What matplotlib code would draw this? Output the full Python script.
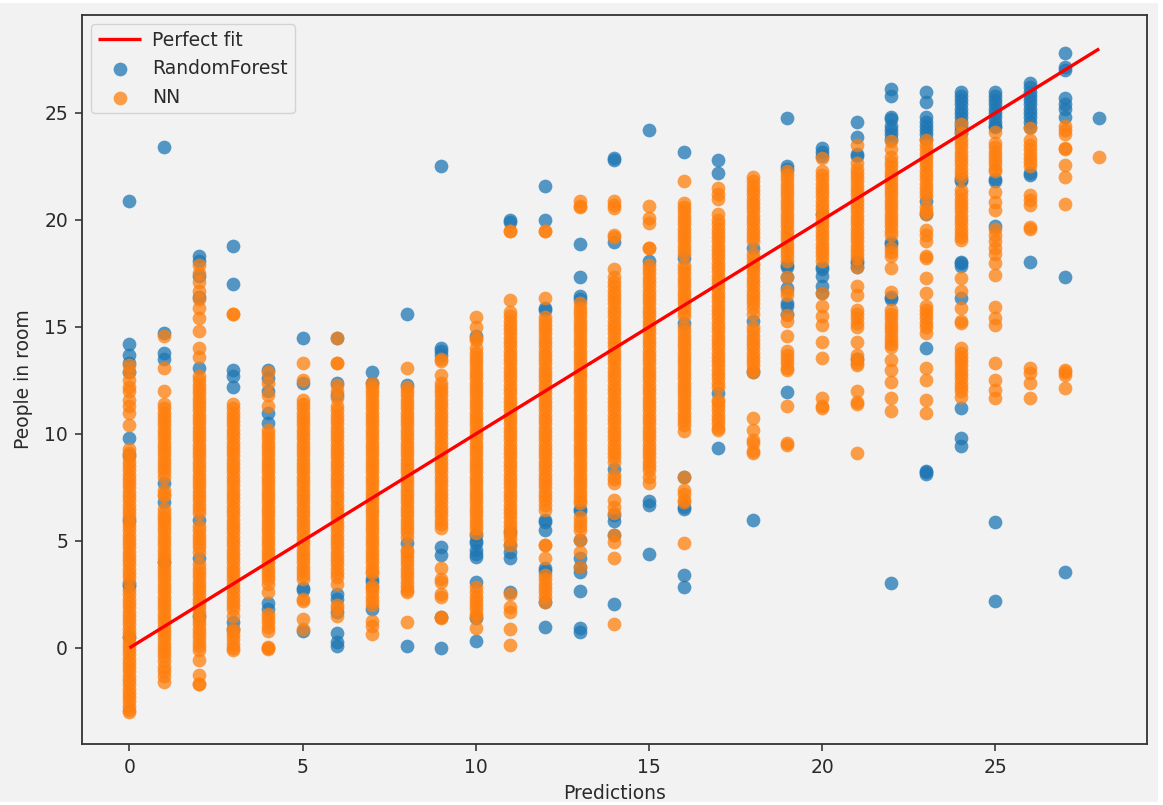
import numpy as np
import matplotlib
matplotlib.use('Agg')
import matplotlib.pyplot as plt
from matplotlib.patches import Rectangle

# values, one list per prediction value
rf_0 = [20.9, 14.2, 13.7, 13.3, 12.9, 9.8, 9.0, 6.0, 3.0, 2.9, 0.5]
rf_1 = [23.4, 14.7, 13.8, 13.5, 7.7, 6.8, 4.0]
rf_2 = [18.3, 18.1, 17.4, 16.4, 13.1, 6.0, 4.2, 1.5]
rf_3 = [18.8, 17.0, 13.0, 12.7, 12.2, 1.2, 0.9]
rf_4 = [13.0, 12.6, 12.0, 11.0, 10.5, 2.1, 1.8]
rf_5 = [14.5, 12.4, 2.8, 2.7, 0.8]
rf_6 = [14.5, 12.4, 11.8, 2.5, 2.3, 1.7, 0.7, 0.3, 0.1]
rf_7 = [12.9, 12.4, 3.2, 3.1, 1.8]
rf_8 = [15.6, 12.3, 4.9, 0.1]
rf_9 = [22.5, 14.0, 13.9, 13.7, 4.7, 4.35, 1.45, 0.0]
rf_10 = [14.6, 5.3, 5.0, 4.9, 4.6, 4.4, 4.25, 3.1, 1.4, 0.33]
rf_11 = [20.0, 19.9, 5.4, 4.8, 4.5, 4.2, 2.6]
rf_12 = [21.6, 20.0, 15.9, 15.8, 6.0, 5.9, 5.5, 3.75, 3.6, 2.15, 1.0]
rf_13 = [18.9, 17.35, 16.45, 16.3, 6.5, 6.4, 5.05, 4.2, 3.8, 3.55, 2.66, 0.93, 0.75]
rf_14 = [22.9, 22.8, 18.95, 8.35, 6.2, 5.93, 5.3, 2.05]
rf_15 = [24.2, 18.1, 6.85, 6.7, 4.4]
rf_16 = [23.2, 18.2, 15.2, 8.0, 6.6, 6.5, 3.4, 2.85]
rf_17 = [22.8, 22.2, 11.9, 9.35]
rf_18 = [18.7, 15.3, 12.9, 6.0]
rf_19 = [24.75, 22.5, 22.4, 17.9, 17.8, 17.35, 16.8, 16.1, 16.0, 15.6, 11.95]
rf_20 = [23.35, 23.2, 23.0, 17.8, 17.7, 17.4, 16.9, 16.6, 20.3]
rf_21 = [24.6, 23.9, 23.1, 23.0, 18.1, 18.0, 17.8, 13.5]
rf_22 = [26.1, 25.8, 24.8, 24.7, 24.4, 24.2, 24.0, 23.8, 18.95, 18.9, 16.4, 16.3, 3.05]
rf_23 = [26.0, 25.5, 24.8, 24.6, 24.4, 24.2, 24.0, 23.8, 20.9, 20.3, 14.0, 8.25, 8.2, 8.15]
rf_24 = [26.0, 25.8, 25.6, 25.4, 25.2, 25.0, 24.8, 24.6, 24.4, 24.2, 24.05, 21.9, 21.8, 18.05, 18.0, 17.85, 16.35, 11.2, 9.8, 9.45]
rf_25 = [26.0, 25.8, 25.6, 25.4, 25.2, 25.0, 24.8, 24.6, 24.4, 24.35, 21.9, 21.8, 19.7, 5.9, 2.2]
rf_26 = [26.4, 26.2, 26.0, 25.8, 25.6, 25.4, 25.2, 25.0, 24.8, 24.6, 24.35, 22.2, 22.1, 18.05]
rf_27 = [27.8, 27.15, 27.0, 25.7, 25.4, 25.2, 24.8, 17.35, 3.55]
rf_28 = [24.75]

nn_0 = [13.2, 12.9, 12.5, 12.2, 12.0, 11.6, 11.3, 11.0, 10.4, 9.3, 9.1, 8.9, 8.7, 8.5, 8.3, 8.1, 7.9, 7.7, 7.5, 7.3, 7.1, 6.9, 6.7, 6.5, 6.3, 6.1, 5.9, 5.7, 5.5, 5.3, 5.1, 4.9, 4.7, 4.5, 4.3, 4.1, 3.9, 3.7, 3.5, 3.3, 3.1, 2.7, 2.5, 2.3, 2.1, 1.9, 1.7, 1.5, 1.3, 1.1, 0.9, 0.7, 0.5, 0.3, 0.1, -0.1, -0.3, -0.5, -0.7, -0.9, -1.1, -1.3, -1.5, -1.7, -1.9, -2.1, -2.3, -2.5, -2.7, -2.9, -3.0]
nn_1 = [14.6, 13.1, 12.0, 11.4, 11.2, 11.0, 10.8, 10.6, 10.4, 10.2, 10.0, 9.8, 9.6, 9.4, 9.2, 9.0, 8.8, 8.6, 8.4, 8.2, 8.0, 7.4, 7.2, 7.1, 6.5, 6.3, 6.1, 6.0, 5.8, 5.6, 5.4, 5.2, 5.0, 4.8, 4.6, 4.4, 4.2, 4.0, 3.8, 3.6, 3.4, 3.2, 3.0, 2.8, 2.6, 2.4, 2.2, 2.0, 1.8, 1.6, 1.4, 1.2, 1.0, 0.8, 0.6, 0.4, 0.2, 0.0, -0.2, -0.4, -0.6, -0.9, -1.1, -1.3, -1.6]
nn_2 = [17.9, 17.5, 17.1, 16.7, 16.3, 15.9, 15.4, 14.8, 14.0, 13.6, 12.7, 12.5, 12.3, 12.1, 11.9, 11.7, 11.5, 11.3, 11.1, 10.9, 10.7, 10.5, 10.3, 10.1, 9.9, 9.7, 9.5, 9.3, 9.1, 8.9, 8.7, 8.5, 8.3, 8.1, 7.9, 7.7, 7.5, 7.3, 7.1, 6.9, 6.7, 6.5, 6.3, 5.7, 5.5, 5.3, 5.1, 4.9, 4.7, 4.5, 3.9, 3.7, 3.5, 3.3, 3.1, 2.9, 2.7, 2.5, 2.3, 2.1, 1.9, 1.7, 1.5, 1.3, 1.1, 0.9, 0.7, 0.5, 0.3, 0.1, -0.1, -0.56, -1.27, -1.7, -1.7]
nn_3 = [15.6, 15.6, 11.4, 11.2, 11.0, 10.8, 10.6, 10.4, 10.2, 10.0, 9.8, 9.6, 9.4, 9.2, 9.0, 8.8, 8.6, 8.4, 8.2, 8.0, 7.8, 7.6, 7.4, 7.2, 7.0, 6.8, 6.6, 6.4, 6.2, 6.0, 5.8, 5.6, 5.4, 5.2, 5.0, 4.8, 4.6, 4.4, 4.2, 4.0, 3.8, 3.6, 3.4, 3.2, 3.0, 2.8, 2.6, 2.4, 2.2, 2.0, 1.8, 1.5, 0.9, 0.8, 0.6, 0.4, 0.2, 0.0, -0.1]
nn_4 = [12.9, 12.4, 11.8, 11.3, 10.2, 10.0, 9.8, 9.6, 9.4, 9.2, 9.0, 8.8, 8.6, 8.4, 8.2, 8.0, 7.8, 7.6, 7.4, 7.2, 7.0, 6.8, 6.6, 6.4, 6.2, 6.0, 5.8, 5.6, 5.4, 5.2, 5.0, 4.8, 4.6, 4.4, 4.2, 4.0, 3.8, 3.6, 3.4, 3.2, 3.0, 2.6, 1.6, 1.4, 1.2, 1.0, 0.8, 0.05, 0.0, -0.05]
nn_5 = [13.3, 12.5, 11.6, 11.4, 11.2, 11.0, 10.8, 10.6, 10.4, 10.2, 10.0, 9.8, 9.6, 9.4, 9.2, 9.0, 8.8, 8.6, 8.4, 8.2, 8.0, 7.8, 7.6, 7.4, 7.2, 7.0, 6.8, 6.6, 6.4, 6.2, 6.0, 5.8, 5.6, 5.4, 5.2, 5.0, 4.8, 4.6, 4.4, 4.2, 4.0, 3.8, 3.6, 3.4, 3.2, 2.3, 2.2, 1.35, 0.9]
nn_6 = [14.5, 13.3, 13.3, 12.3, 12.0, 11.7, 11.3, 11.1, 10.9, 10.7, 10.5, 10.3, 10.1, 9.9, 9.7, 9.5, 9.3, 9.1, 8.9, 8.7, 8.5, 8.3, 8.1, 7.9, 7.7, 7.5, 7.3, 7.1, 6.9, 6.7, 6.5, 6.3, 6.1, 5.9, 5.7, 5.5, 5.3, 5.1, 4.9, 4.7, 4.5, 4.3, 4.1, 3.9, 3.7, 3.5, 3.3, 3.0, 2.0, 1.87, 1.5]
nn_7 = [12.4, 12.2, 12.0, 11.8, 11.6, 11.4, 11.2, 11.0, 10.8, 10.6, 10.4, 10.2, 10.0, 9.8, 9.6, 9.4, 9.2, 9.0, 8.8, 8.6, 8.4, 8.2, 8.0, 7.8, 7.6, 7.4, 7.2, 7.0, 6.8, 6.6, 6.4, 6.2, 6.0, 5.8, 5.6, 5.4, 5.2, 5.0, 4.8, 4.6, 4.4, 4.2, 4.0, 3.8, 3.6, 3.5, 2.9, 2.8, 2.6, 2.4, 2.2, 2.0, 1.25, 1.03, 0.66]
nn_8 = [13.1, 12.2, 12.0, 11.8, 11.6, 11.4, 11.2, 11.0, 10.8, 10.6, 10.4, 10.2, 10.0, 9.8, 9.6, 9.4, 9.2, 9.0, 8.8, 8.6, 8.4, 8.2, 8.0, 7.8, 7.6, 7.4, 7.2, 7.0, 6.8, 6.6, 6.4, 6.2, 6.0, 5.8, 5.6, 5.4, 5.2, 4.6, 4.5, 4.3, 4.1, 3.9, 3.7, 3.5, 3.3, 3.1, 2.9, 2.7, 2.6, 1.2]
nn_9 = [13.5, 13.4, 12.75, 12.4, 12.2, 12.0, 11.8, 11.6, 11.4, 11.2, 11.0, 10.8, 10.6, 10.4, 10.2, 10.0, 9.8, 9.6, 9.4, 9.2, 9.0, 8.8, 8.6, 8.4, 8.2, 8.0, 7.8, 7.6, 7.4, 7.2, 7.0, 6.8, 6.6, 6.4, 6.2, 6.0, 5.8, 5.6, 3.75, 3.2, 3.1, 2.5, 2.4, 1.4, 1.45]
nn_10 = [15.45, 15.0, 14.5, 14.4, 14.0, 13.8, 13.6, 13.4, 13.2, 13.0, 12.8, 12.6, 12.4, 12.2, 12.0, 11.8, 11.6, 11.4, 11.2, 11.0, 10.8, 10.6, 10.4, 10.2, 10.0, 9.8, 9.6, 9.4, 9.2, 9.0, 8.8, 8.6, 8.4, 8.2, 8.0, 7.8, 7.6, 7.4, 7.2, 7.0, 6.8, 6.6, 6.4, 6.2, 6.0, 5.8, 5.6, 5.37, 2.85, 2.6, 2.4, 2.2, 2.0, 1.8, 1.6, 1.45, 0.93]
nn_11 = [19.5, 19.5, 16.25, 15.7, 15.5, 15.3, 15.1, 14.9, 14.7, 14.5, 14.3, 14.1, 13.9, 13.7, 13.5, 13.3, 13.1, 12.9, 12.7, 12.5, 12.3, 12.1, 11.9, 11.7, 11.5, 11.3, 11.1, 10.9, 10.7, 10.5, 10.3, 10.1, 9.9, 9.7, 9.5, 9.3, 9.1, 8.9, 8.7, 8.5, 8.3, 8.1, 7.9, 7.7, 7.5, 7.3, 7.1, 6.9, 6.7, 6.5, 6.3, 6.1, 5.9, 5.7, 5.5, 5.3, 5.1, 4.8, 2.5, 1.9, 1.7, 0.9, 0.14]
nn_12 = [19.5, 19.5, 16.35, 15.45, 15.3, 15.1, 14.9, 14.7, 14.5, 14.3, 14.1, 13.9, 13.7, 13.5, 13.3, 13.1, 12.9, 12.7, 12.5, 12.3, 12.1, 11.9, 11.7, 11.5, 11.3, 11.1, 10.9, 10.7, 10.5, 10.3, 10.1, 9.9, 9.7, 9.5, 9.3, 9.1, 8.9, 8.7, 8.5, 8.3, 8.1, 7.9, 7.7, 7.5, 7.3, 7.1, 6.9, 6.7, 6.45, 4.8, 4.8, 4.2, 3.4, 3.2, 3.0, 2.8, 2.6, 2.4, 2.15]
nn_13 = [20.9, 20.65, 20.6, 16.1, 15.9, 15.7, 15.5, 15.3, 15.1, 14.9, 14.7, 14.5, 14.3, 14.1, 13.9, 13.7, 13.5, 13.3, 13.1, 12.9, 12.7, 12.5, 12.3, 12.1, 11.9, 11.7, 11.5, 11.3, 11.1, 10.9, 10.7, 10.5, 10.3, 10.1, 9.9, 9.7, 9.5, 9.3, 9.1, 8.9, 8.7, 8.5, 8.3, 8.1, 7.9, 7.7, 7.5, 7.3, 7.1, 6.9, 6.75, 6.1, 5.9, 5.7, 5.5, 5.05, 4.5, 3.8]
nn_14 = [20.9, 20.7, 20.55, 19.3, 19.2, 17.7, 17.35, 17.1, 16.9, 16.7, 16.5, 16.3, 16.1, 15.9, 15.7, 15.5, 15.3, 15.1, 14.9, 14.7, 14.5, 14.3, 14.1, 13.9, 13.7, 13.5, 13.3, 13.1, 12.9, 12.7, 12.5, 12.3, 12.1, 11.9, 11.7, 11.5, 11.3, 11.1, 10.9, 10.7, 10.5, 10.3, 10.1, 9.9, 9.7, 9.5, 9.3, 9.1, 8.9, 8.7, 8.1, 7.9, 7.7, 6.9, 6.6, 6.3, 5.3, 4.95, 4.2, 1.12]
nn_15 = [20.65, 20.1, 19.85, 18.7, 18.7, 17.9, 17.7, 17.5, 17.3, 17.1, 16.9, 16.7, 16.5, 16.3, 16.1, 15.9, 15.7, 15.5, 15.3, 15.1, 14.9, 14.7, 14.5, 14.3, 14.1, 13.9, 13.7, 13.5, 13.3, 13.1, 12.9, 12.7, 12.5, 12.3, 12.1, 11.9, 11.7, 11.5, 11.3, 11.1, 10.9, 10.7, 10.5, 10.3, 10.1, 9.9, 9.7, 9.5, 9.3, 9.1, 8.9, 8.7, 8.5, 8.3, 8.0, 7.7]
nn_16 = [21.8, 20.8, 20.6, 20.4, 20.2, 20.0, 19.8, 19.6, 19.4, 19.2, 19.0, 18.8, 18.6, 18.4, 17.9, 17.7, 17.5, 17.3, 17.1, 16.9, 16.7, 16.5, 16.3, 16.1, 15.9, 15.7, 15.5, 15.0, 14.8, 14.6, 14.4, 14.2, 14.0, 13.8, 13.6, 13.4, 13.2, 13.0, 12.8, 12.6, 12.4, 12.2, 12.0, 11.8, 11.6, 11.4, 11.2, 11.0, 10.8, 10.6, 10.4, 10.15, 8.0, 7.4, 7.2, 6.9, 6.8, 4.9]
nn_17 = [21.5, 21.2, 21.0, 20.3, 20.0, 19.8, 19.6, 19.4, 19.2, 19.0, 18.8, 18.6, 18.4, 18.2, 18.0, 17.8, 17.6, 17.4, 17.2, 17.0, 16.8, 16.6, 16.4, 16.2, 16.0, 15.8, 15.6, 15.4, 15.2, 15.0, 14.8, 14.6, 14.4, 14.2, 14.0, 13.8, 13.6, 13.4, 13.2, 13.0, 12.8, 12.6, 12.4, 12.2, 11.6, 11.5, 11.3, 11.1, 10.9, 10.7, 10.5, 10.3, 10.2]
nn_18 = [22.0, 21.8, 21.6, 21.4, 21.2, 21.0, 20.8, 20.6, 20.4, 20.2, 20.0, 19.8, 19.6, 19.4, 19.2, 19.0, 18.4, 18.2, 18.0, 17.9, 17.7, 17.5, 17.3, 17.1, 16.9, 16.7, 16.5, 16.3, 16.1, 15.9, 15.6, 15.0, 14.8, 14.6, 14.4, 14.2, 14.0, 13.8, 13.6, 13.4, 13.2, 13.0, 12.9, 10.75, 10.2, 9.7, 9.6, 9.2, 9.1]
nn_19 = [22.3, 22.1, 21.9, 21.7, 21.5, 21.3, 21.1, 20.9, 20.7, 20.5, 20.3, 20.1, 19.9, 19.7, 19.5, 19.3, 19.1, 18.9, 18.7, 18.5, 18.3, 18.1, 17.35, 16.7, 16.5, 15.55, 15.3, 14.6, 13.9, 13.7, 13.5, 13.3, 13.1, 13.0, 11.3, 9.6, 9.5]
nn_20 = [22.9, 22.3, 22.1, 21.9, 21.7, 21.5, 21.3, 21.1, 20.9, 20.7, 20.5, 20.3, 20.1, 19.9, 19.7, 19.5, 19.3, 19.1, 18.9, 18.7, 18.5, 18.3, 18.1, 16.6, 16.0, 15.5, 15.1, 14.3, 13.55, 11.7, 11.2, 11.3]
nn_21 = [23.5, 22.65, 22.4, 22.2, 22.0, 21.8, 21.6, 21.4, 21.2, 21.0, 20.8, 20.6, 20.4, 20.2, 20.0, 19.8, 19.6, 19.4, 19.2, 19.0, 18.8, 18.6, 18.4, 18.2, 17.8, 16.9, 16.5, 15.8, 15.6, 15.4, 15.2, 15.0, 14.3, 13.7, 13.5, 13.3, 13.2, 12.0, 11.5, 11.4, 9.1]
nn_22 = [23.7, 23.3, 22.95, 22.7, 22.5, 22.3, 22.1, 21.9, 21.7, 21.5, 21.3, 21.1, 20.9, 20.7, 20.5, 20.3, 20.1, 19.9, 19.7, 19.5, 19.3, 18.7, 18.5, 18.3, 17.75, 16.65, 15.8, 15.6, 15.4, 15.2, 15.0, 14.8, 14.6, 14.4, 14.2, 14.05, 13.45, 13.0, 12.45, 11.7, 11.05]
nn_23 = [23.75, 23.5, 23.3, 23.1, 22.9, 22.7, 22.5, 22.3, 22.1, 21.9, 21.7, 21.5, 21.3, 21.1, 20.6, 20.4, 20.3, 19.55, 19.3, 19.0, 18.3, 18.2, 17.3, 16.6, 16.0, 15.8, 15.6, 15.4, 15.2, 15.0, 14.7, 13.1, 12.5, 11.6, 11.0]
nn_24 = [24.5, 24.05, 23.8, 23.6, 23.4, 23.2, 23.0, 22.8, 22.6, 22.4, 22.2, 22.0, 21.4, 21.2, 21.0, 20.8, 20.6, 20.4, 20.2, 20.0, 19.8, 19.6, 19.4, 19.2, 19.05, 17.3, 16.7, 15.9, 15.3, 15.2, 14.0, 13.8, 13.6, 13.4, 13.2, 13.0, 12.8, 12.6, 12.4, 12.2, 12.0, 11.75]
nn_25 = [24.1, 23.6, 23.4, 23.2, 23.0, 22.8, 22.6, 22.4, 22.3, 21.3, 20.85, 20.45, 19.6, 19.3, 19.0, 18.7, 18.4, 18.0, 17.45, 15.95, 15.4, 15.1, 13.3, 12.5, 12.05, 11.7]
nn_26 = [24.3, 23.75, 23.5, 23.3, 23.1, 22.9, 22.7, 22.5, 21.15, 20.95, 20.7, 19.65, 19.6, 13.1, 12.85, 12.4, 11.7]
nn_27 = [24.4, 24.2, 24.0, 23.35, 23.3, 22.55, 22.0, 20.75, 13.0, 12.9, 12.75, 12.15]
nn_28 = [22.95]

rf_cols = [rf_0, rf_1, rf_2, rf_3, rf_4, rf_5, rf_6, rf_7, rf_8, rf_9, rf_10, rf_11, rf_12, rf_13, rf_14,
           rf_15, rf_16, rf_17, rf_18, rf_19, rf_20, rf_21, rf_22, rf_23, rf_24, rf_25, rf_26, rf_27, rf_28]
nn_cols = [nn_0, nn_1, nn_2, nn_3, nn_4, nn_5, nn_6, nn_7, nn_8, nn_9, nn_10, nn_11, nn_12, nn_13, nn_14,
           nn_15, nn_16, nn_17, nn_18, nn_19, nn_20, nn_21, nn_22, nn_23, nn_24, nn_25, nn_26, nn_27, nn_28]

fit_line = [0, 28]
xticks = [0, 5, 10, 15, 20, 25]
yticks = [0, 5, 10, 15, 20, 25]


def flatten(cols):
    xs = []
    ys = []
    for pred, col in enumerate(cols):
        xs += [pred] * len(col)
        ys += col
    return np.array(xs), np.array(ys)


W, H = 1163, 805
txt = '#2a2a2a'
bg = '#f2f2f2'
plt.rcParams['font.size'] = 13.5
plt.rcParams['text.color'] = txt

fig = plt.figure(figsize=(W / 100, H / 100), dpi=100, facecolor='white')
# grey screenshot area, a thin white edge stays around it
fig.add_artist(Rectangle((0, 3 / H), 1158 / W, 799 / H, transform=fig.transFigure, color=bg, lw=0, zorder=-5))
ax = fig.add_axes([82 / W, 1 - 744 / H, (1147 - 82) / W, (744 - 15) / H], facecolor=bg)

ax.plot(fit_line, fit_line, color='red', lw=2.4, label='Perfect fit', zorder=4, solid_capstyle='butt')
x, y = flatten(rf_cols)
ax.scatter(x, y, s=98, alpha=0.75, color='#1f77b4', linewidths=0, label='RandomForest', zorder=2)
x, y = flatten(nn_cols)
ax.scatter(x, y, s=98, alpha=0.75, color='#ff7f0e', linewidths=0, label='NN', zorder=3)

ax.set_xlim(-1.37, 29.38)
ax.set_ylim(-4.49, 29.58)
ax.set_xticks(xticks)
ax.set_yticks(yticks)
ax.tick_params(colors=txt, width=1.1, length=5, labelsize=13.5, pad=5)
for s in ax.spines.values():
    s.set_color('#333333')
    s.set_linewidth(1.3)
ax.set_xlabel('Predictions', color=txt, labelpad=5)
ax.set_ylabel('People in room', color=txt, labelpad=8)

leg = ax.legend(loc='upper left', facecolor=bg, framealpha=0.8, edgecolor='#cccccc',
                handlelength=2.3, handletextpad=0.6, borderpad=0.35)

fig.savefig('out.png', dpi=100, facecolor='white')
